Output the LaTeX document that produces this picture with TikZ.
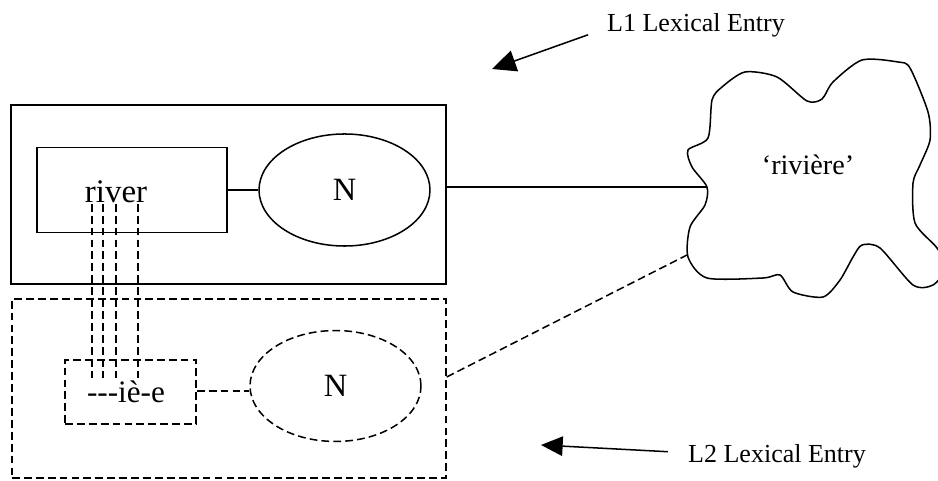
\documentclass[tikz,border=0pt]{standalone}
\usepackage{fontspec}
\setmainfont{Liberation Serif}
\usetikzlibrary{arrows.meta}
\usetikzlibrary{calc}
\usetikzlibrary{shapes.geometric}
\usetikzlibrary{positioning}

\begin{document}
\begin{tikzpicture}[x=0.4615pt, y=-0.4615pt, line width=0.7pt,
                    dsh/.style={dash pattern=on 3.6pt off 1.9pt}]
	\useasboundingbox (0,0) rectangle (938,481);

	\begin{scope}[every node/.style={draw, inner sep=0pt}]
		\node[minimum width=200.8pt, minimum height=82.6pt] (l1) at (228.5,194.5) {};
		\node[minimum width=87.7pt, minimum height=39.2pt] (word) at (132,190) {};
		\node[ellipse, minimum width=78.9pt, minimum height=51.7pt,
		      font=\fontsize{15}{18}\selectfont] (n1) at (344.5,190) {N};
	\end{scope}

	\begin{scope}[every node/.style={draw, dsh, inner sep=0pt}]
		\node[minimum width=200.3pt, minimum height=82.6pt] (l2) at (229,388.5) {};
		\node[minimum width=60.5pt, minimum height=29.5pt] (suffix) at (130.5,392) {};
		\node[ellipse, minimum width=78.9pt, minimum height=51.2pt,
		      font=\fontsize{15}{18}\selectfont] (n2) at (335.5,386) {N};
	\end{scope}

	\begin{scope}[every node/.style={inner sep=0pt}]
		\node[font=\fontsize{15.2}{18}\selectfont] (river) at (116,192) {river};
		\node[font=\fontsize{14.4}{17}\selectfont] (ending) at (126,392) {-{}-{}-iè-e};
		\node[font=\fontsize{13}{16}\selectfont] (meaning) at (808,165) {‘rivière’};
		\node[font=\fontsize{12}{14}\selectfont] (lab1) at (696,25) {L1 Lexical Entry};
		\node[font=\fontsize{12}{14}\selectfont] (lab2) at (777,456) {L2 Lexical Entry};
	\end{scope}

	% concept cloud
	\begin{scope}
		\clip (0,0) rectangle (938,481);
		\draw plot[smooth cycle, tension=0.45] coordinates {
			(745,72) (777,77) (807,101) (822,99) (833,82) (862,60) (898,62)
			(910,68) (928,112) (930,140) (920,165) (913,183) (915,223)
			(937,248) (946,268) (933,285) (913,285) (880,248) (862,245)
			(853,257) (840,280) (823,297) (793,292) (780,275) (763,278)
			(707,278) (688,257) (690,227) (705,205) (707,187) (692,167)
			(688,150) (708,138) (712,100) (722,87)};
	\end{scope}
	\coordinate (c1) at (707,187);
	\coordinate (c2) at (687,255);
	\coordinate (tip1) at (492,69);
	\coordinate (tip2) at (541,445);

	\begin{scope}[every edge/.style={draw=black}]
		\path (word) edge (n1);
		\path (l1.east |- c1) edge (c1);
		\path (suffix.east |- 0,391) edge[dsh] (n2.west |- 0,391);
		\path ($(l2.south east)!0.564!(l2.north east)$) edge[dsh] (c2);
		\foreach \x in {92,103,116,138} {\path (river.south -| \x,0) edge[dsh] (ending.north -| \x,0);}
		\path ([yshift=-1.5pt]lab1.west) edge[-{Triangle[length=11pt, width=10pt]}, shorten <=9pt] (tip1);
		\path ([yshift=1.5pt]lab2.west) edge[-{Triangle[length=10pt, width=9pt]}, shorten <=9pt] (tip2);
	\end{scope}
\end{tikzpicture}
\end{document}
